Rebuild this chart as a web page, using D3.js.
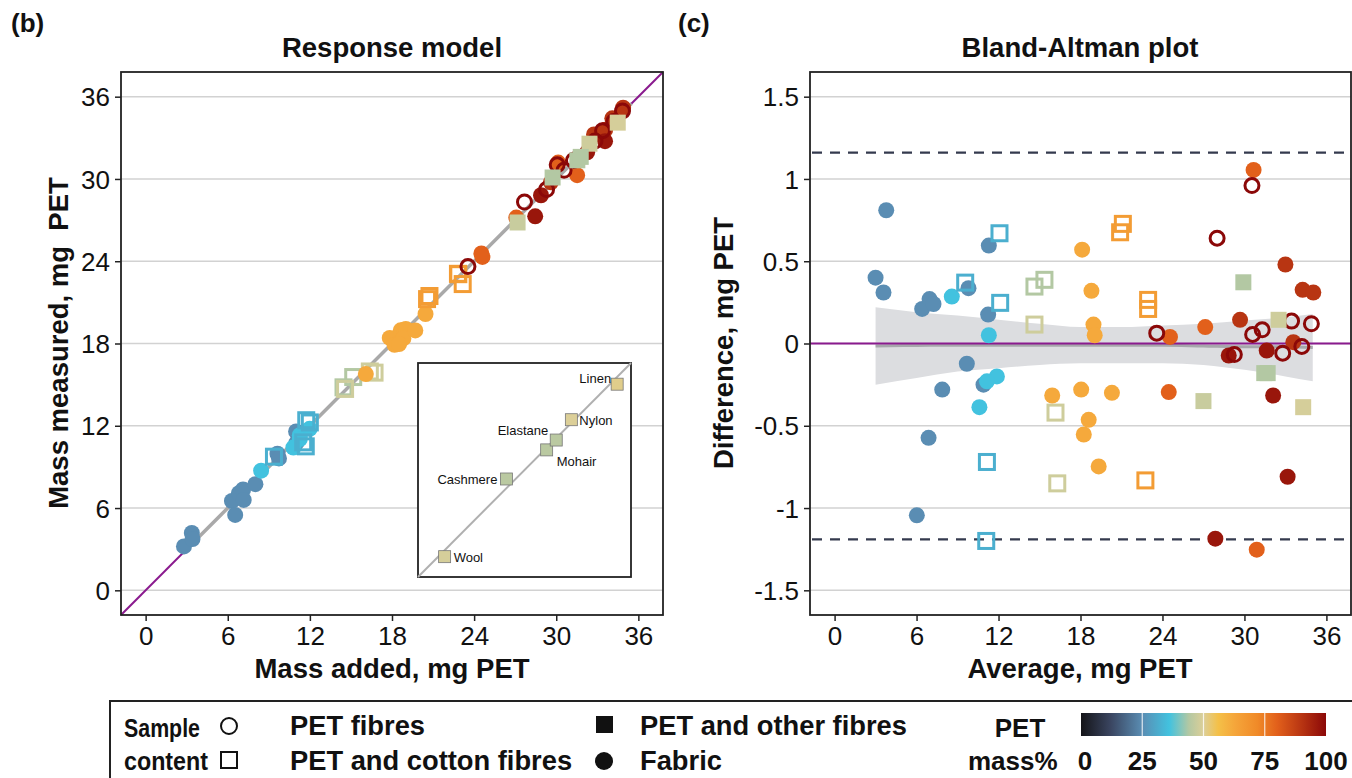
<!DOCTYPE html>
<html>
<head>
<meta charset="utf-8">
<script src="https://cdn.jsdelivr.net/npm/d3@7"></script>
<style>
  body { margin: 0; background: #fff; }
  text { font-family: "Liberation Sans", Arial, sans-serif; fill: #111; }
</style>
</head>
<body>
<svg id="chart" width="1352" height="778"></svg>
<script>
// ---- data (average, difference) ----
var pointAvg = [3.78, 3.0, 3.58, 6.41, 6.95, 7.24, 9.8, 11.29, 11.24, 9.68, 7.88, 10.9, 6.88, 6.02,
    8.58, 11.29, 11.88, 11.15, 10.6,
    9.56, 12.07, 12.12, 11.15, 11.1,
    14.63, 15.36, 14.63, 16.17, 16.3,
    18.12, 18.8, 18.95, 19.04, 15.93, 18.05, 20.3, 18.6, 18.24, 19.33,
    21.1, 20.9, 22.95, 22.95, 22.75,
    30.67, 24.55, 27.13, 24.46, 30.9,
    33.0, 34.26, 35.04, 29.68, 33.58,
    28.85, 31.63, 32.1, 33.16, 27.87,
    30.55, 28.0, 23.58, 30.6, 31.3, 33.45, 34.9, 34.2, 29.26, 32.8,
    29.92, 32.5, 31.45, 31.7, 27.0, 34.3];
var pointDiff = [0.81, 0.40, 0.31, 0.21, 0.27, 0.24, 0.336, 0.595, 0.176, -0.123, -0.28, -0.25, -0.573, -1.044,
    0.285, 0.05, -0.2, -0.23, -0.387,
    0.37, 0.67, 0.247, -0.72, -1.2,
    0.346, 0.387, 0.115, -0.42, -0.85,
    0.57, 0.32, 0.115, 0.05, -0.316, -0.28, -0.3, -0.464, -0.553, -0.747,
    0.727, 0.676, 0.265, 0.21, -0.832,
    1.055, 0.04, 0.1, -0.295, -1.253,
    0.48, 0.326, 0.31, 0.144, 0.008,
    -0.073, -0.043, -0.316, -0.81, -1.186,
    0.96, 0.64, 0.063, 0.055, 0.083, 0.136, 0.12, -0.018, -0.067, -0.059,
    0.372, 0.144, -0.18, -0.18, -0.35, -0.387];
// F = PET fibres, C = PET and cotton, O = PET and other fibres, B = fabric
var pointType = "BBBBBBBBBBBBBB" + "BBBBB" + "CCCCC" + "CCCCC" + "BBBBBBBBBB" + "CCCCC" +
    "BBBBB" + "BBBBB" + "BBBBB" + "FFFFFFFFFF" + "OOOOOO";
var pointPct = [25, 25, 25, 25, 25, 25, 25, 25, 25, 25, 25, 25, 25, 25,
    36, 36, 36, 36, 36,
    32, 32, 32, 32, 32,
    44, 44, 48, 48, 48,
    62, 62, 62, 62, 62, 62, 62, 62, 62, 62,
    66, 66, 66, 66, 66,
    80, 80, 80, 80, 80,
    90, 90, 90, 90, 90,
    97, 97, 97, 97, 97,
    100, 100, 100, 100, 100, 100, 100, 100, 100, 100,
    44, 48, 44, 44, 47, 49];

// smoother band in the Bland-Altman panel
var bandAvg   = [3, 6, 9, 12, 15, 18, 21, 24, 27, 30, 33, 35];
var bandUpper = [0.22, 0.19, 0.17, 0.145, 0.12, 0.10, 0.10, 0.11, 0.12, 0.14, 0.16, 0.18];
var bandLower = [-0.25, -0.21, -0.17, -0.15, -0.13, -0.12, -0.12, -0.12, -0.13, -0.16, -0.20, -0.23];
var bandFit   = [-0.015, -0.012, -0.01, -0.01, -0.01, -0.01, -0.01, -0.01, -0.015, -0.02, -0.02, -0.025];
var limitsOfAgreement = [1.16, -1.19];

// response model fit
var fitRange = [2.7, 35.5];
var fitSlope = 1.0, fitIntercept = 0.0;

// inset (other fibres)
var insetNames = ["Wool", "Cashmere", "Mohair", "Elastane", "Nylon", "Linen"];
var insetX = [12.5, 41.5, 60.4, 64.9, 72.0, 93.5];
var insetY = [9.5, 45.8, 59.4, 64.0, 73.5, 90.1];
var insetPct = [49, 45, 45, 45, 50, 51];

var massTicks = [0, 6, 12, 18, 24, 30, 36];
var diffTicks = [-1.5, -1, -0.5, 0, 0.5, 1, 1.5];
var pctTicks = [0, 25, 50, 75, 100];

// ---- colour scale ----
var colStops = [0, 0.12, 0.25, 0.36, 0.44, 0.5, 0.56, 0.63, 0.72, 0.8, 0.9, 1.0];
var colValues = ["#141418", "#3a4560", "#5a8db3", "#42c2df", "#b3c8a3", "#dccf98",
    "#f4c048", "#f5a53a", "#f08a28", "#e2601b", "#b83512", "#8b0808"];
var colour = d3.scaleLinear().domain(colStops.map(function(d) { return d * 100; }))
    .range(colValues).interpolate(d3.interpolateRgb);

var svg = d3.select("#chart");
var points = pointAvg.map(function(a, i) {
    return { avg: a, diff: pointDiff[i], type: pointType[i], pct: pointPct[i],
             added: a - pointDiff[i] / 2, measured: a + pointDiff[i] / 2 };
});

function drawMarks(g, data, xf, yf) {
    data.forEach(function(d) {
        var x = xf(d), y = yf(d), c = colour(d.pct);
        if (d.type === "B") {
            g.append("circle").attr("cx", x).attr("cy", y).attr("r", 8).attr("fill", c);
        } else if (d.type === "F") {
            g.append("circle").attr("cx", x).attr("cy", y).attr("r", 7)
                .attr("fill", "none").attr("stroke", c).attr("stroke-width", 3);
        } else if (d.type === "C") {
            g.append("rect").attr("x", x - 7.5).attr("y", y - 7.5).attr("width", 15).attr("height", 15)
                .attr("fill", "none").attr("stroke", c).attr("stroke-width", 3);
        } else {
            g.append("rect").attr("x", x - 8).attr("y", y - 8).attr("width", 16).attr("height", 16)
                .attr("fill", c);
        }
    });
}

function panel(x, y, yTicks, yFmt) {
    var g = svg.append("g");
    g.selectAll(".grid").data(yTicks).enter().append("line")
        .attr("x1", x.range()[0]).attr("x2", x.range()[1])
        .attr("y1", y).attr("y2", y)
        .attr("stroke", "#d2d2d2").attr("stroke-width", 1.5);
    var ax = g.append("g").attr("transform", "translate(0," + y.range()[0] + ")")
        .call(d3.axisBottom(x).tickValues(massTicks).tickSize(6).tickPadding(6));
    var ay = g.append("g").attr("transform", "translate(" + x.range()[0] + ",0)")
        .call(d3.axisLeft(y).tickValues(yTicks).tickFormat(yFmt).tickSize(6).tickPadding(5));
    [ax, ay].forEach(function(a) {
        a.select(".domain").remove();
        a.selectAll("line").attr("stroke", "#222").attr("stroke-width", 1.5);
        a.selectAll("text").style("font-size", "26px").attr("fill", "#111");
    });
    ay.selectAll("text").attr("dy", "0.35em");
    return g;
}

// ---- panel (b) Response model ----
var xL = d3.scaleLinear().domain([-1.8, 37.8]).range([121, 663]);
var yL = d3.scaleLinear().domain([-1.8, 37.8]).range([615, 72]);
var gL = panel(xL, yL, massTicks, d3.format("d"));

gL.append("line")
    .attr("x1", xL(-1.8)).attr("y1", yL(-1.8)).attr("x2", xL(37.8)).attr("y2", yL(37.8))
    .attr("stroke", "#8a1a8e").attr("stroke-width", 2);
gL.append("line")
    .attr("x1", xL(fitRange[0])).attr("y1", yL(fitIntercept + fitSlope * fitRange[0]))
    .attr("x2", xL(fitRange[1])).attr("y2", yL(fitIntercept + fitSlope * fitRange[1]))
    .attr("stroke", "#a9a9a9").attr("stroke-width", 3.5);
drawMarks(gL.append("g"), points, function(d) { return xL(d.added); }, function(d) { return yL(d.measured); });
gL.append("rect").attr("x", 121).attr("y", 72).attr("width", 542).attr("height", 543)
    .attr("fill", "none").attr("stroke", "#222").attr("stroke-width", 1.8);

// inset
var ix = d3.scaleLinear().domain([0, 100]).range([418, 631]);
var iy = d3.scaleLinear().domain([0, 100]).range([577, 363]);
var gi = svg.append("g");
gi.append("rect").attr("x", 418).attr("y", 363).attr("width", 213).attr("height", 214)
    .attr("fill", "#fff").attr("stroke", "#222").attr("stroke-width", 1.8);
gi.append("line").attr("x1", ix(0)).attr("y1", iy(0)).attr("x2", ix(100)).attr("y2", iy(100))
    .attr("stroke", "#b0b0b0").attr("stroke-width", 2);
var insetLabelPos = [[9, 5, "start"], [-9, 5, "end"], [10, 16, "start"], [-8, -5, "end"], [8, 5, "start"], [-6, -1, "end"]];
insetNames.forEach(function(n, i) {
    var x = ix(insetX[i]), y = iy(insetY[i]);
    gi.append("rect").attr("x", x - 6).attr("y", y - 6).attr("width", 12).attr("height", 12)
        .attr("fill", colour(insetPct[i])).attr("stroke", "#777").attr("stroke-width", 0.8);
    gi.append("text").attr("x", x + insetLabelPos[i][0]).attr("y", y + insetLabelPos[i][1])
        .attr("text-anchor", insetLabelPos[i][2]).style("font-size", "13px").attr("fill", "#222").text(n);
});

// ---- panel (c) Bland-Altman ----
var xR = d3.scaleLinear().domain([-1.8, 37.8]).range([810, 1351]);
var yR = d3.scaleLinear().domain([-1.65, 1.65]).range([615, 72]);
var gR = panel(xR, yR, diffTicks, function(d) { return String(d); });

var area = d3.area()
    .x(function(d, i) { return xR(bandAvg[i]); })
    .y0(function(d, i) { return yR(bandLower[i]); })
    .y1(function(d, i) { return yR(bandUpper[i]); })
    .curve(d3.curveMonotoneX);
gR.append("path").datum(bandAvg).attr("d", area).attr("fill", "#dcdde0");
gR.append("path").datum(bandAvg)
    .attr("d", d3.line().x(function(d, i) { return xR(bandAvg[i]); })
        .y(function(d, i) { return yR(bandFit[i]); }).curve(d3.curveMonotoneX))
    .attr("fill", "none").attr("stroke", "#a6a7ab").attr("stroke-width", 3);
gR.append("line").attr("x1", 810).attr("x2", 1351).attr("y1", yR(0)).attr("y2", yR(0))
    .attr("stroke", "#8a1a8e").attr("stroke-width", 2);
gR.selectAll(".loa").data(limitsOfAgreement).enter().append("line")
    .attr("x1", 812).attr("x2", 1349).attr("y1", yR).attr("y2", yR)
    .attr("stroke", "#343a4e").attr("stroke-width", 2.2).attr("stroke-dasharray", "10,8");
drawMarks(gR.append("g"), points, function(d) { return xR(d.avg); }, function(d) { return yR(d.diff); });
gR.append("rect").attr("x", 810).attr("y", 72).attr("width", 541).attr("height", 543)
    .attr("fill", "none").attr("stroke", "#222").attr("stroke-width", 1.8);

// ---- titles ----
function label(x, y, txt, size, anchor, rot) {
    var t = svg.append("text").attr("x", x).attr("y", y).attr("text-anchor", anchor || "middle")
        .style("font-size", size + "px").style("font-weight", "bold").text(txt);
    if (rot) t.attr("transform", "rotate(-90," + x + "," + y + ")");
    return t;
}
label(11, 32, "(b)", 26, "start");
label(678, 32, "(c)", 26, "start");
label(392, 57, "Response model", 27.5);
label(1080, 57, "Bland-Altman plot", 27.5);
label(392, 678, "Mass added, mg PET", 27.5);
label(1080, 678, "Average, mg PET", 27.5);
label(68, 343, "Mass measured, mg\u00a0\u00a0PET", 27.5, "middle", true);
label(733, 343, "Difference, mg PET", 27.5, "middle", true);

// ---- legend ----
var lg = svg.append("g");
lg.append("rect").attr("x", 110).attr("y", 701).attr("width", 1260).attr("height", 100)
    .attr("fill", "#fff").attr("stroke", "#222").attr("stroke-width", 2);
label(124, 737, "Sample", 26, "start").attr("textLength", 76).attr("lengthAdjust", "spacingAndGlyphs");
label(124, 770, "content", 26, "start").attr("textLength", 84).attr("lengthAdjust", "spacingAndGlyphs");
lg.append("circle").attr("cx", 229).attr("cy", 726).attr("r", 8).attr("fill", "none")
    .attr("stroke", "#111").attr("stroke-width", 2);
lg.append("rect").attr("x", 221).attr("y", 752).attr("width", 16).attr("height", 16).attr("fill", "none")
    .attr("stroke", "#111").attr("stroke-width", 2);
label(290, 735, "PET fibres", 27.3, "start");
label(290, 770, "PET and cotton fibres", 27.3, "start");
lg.append("rect").attr("x", 596).attr("y", 716).attr("width", 17).attr("height", 17).attr("fill", "#111");
lg.append("circle").attr("cx", 604).attr("cy", 761).attr("r", 9).attr("fill", "#111");
label(640, 735, "PET and other fibres", 27.3, "start");
label(640, 770, "Fabric", 27.3, "start");
label(1020, 737, "PET", 26);
label(968, 770, "mass%", 26, "start");

var grad = svg.append("defs").append("linearGradient").attr("id", "pctGrad");
colStops.forEach(function(s, i) {
    grad.append("stop").attr("offset", (s * 100) + "%").attr("stop-color", colValues[i]);
});
var cb = d3.scaleLinear().domain([0, 100]).range([1081, 1326]);
lg.append("rect").attr("x", cb(0)).attr("y", 713).attr("width", cb(100) - cb(0)).attr("height", 23)
    .attr("fill", "url(#pctGrad)");
lg.selectAll(".cbt").data(pctTicks.slice(1, 4)).enter().append("line")
    .attr("x1", cb).attr("x2", cb).attr("y1", 713).attr("y2", 736)
    .attr("stroke", "#fff").attr("stroke-width", 1.2).attr("opacity", 0.8);
lg.selectAll(".cbl").data(pctTicks).enter().append("text")
    .attr("x", function(d) { return cb(d) + (d === 0 ? 4 : 0); }).attr("y", 770)
    .attr("text-anchor", "middle").style("font-size", "26px").style("font-weight", "bold")
    .text(function(d) { return d; });
</script>
</body>
</html>
